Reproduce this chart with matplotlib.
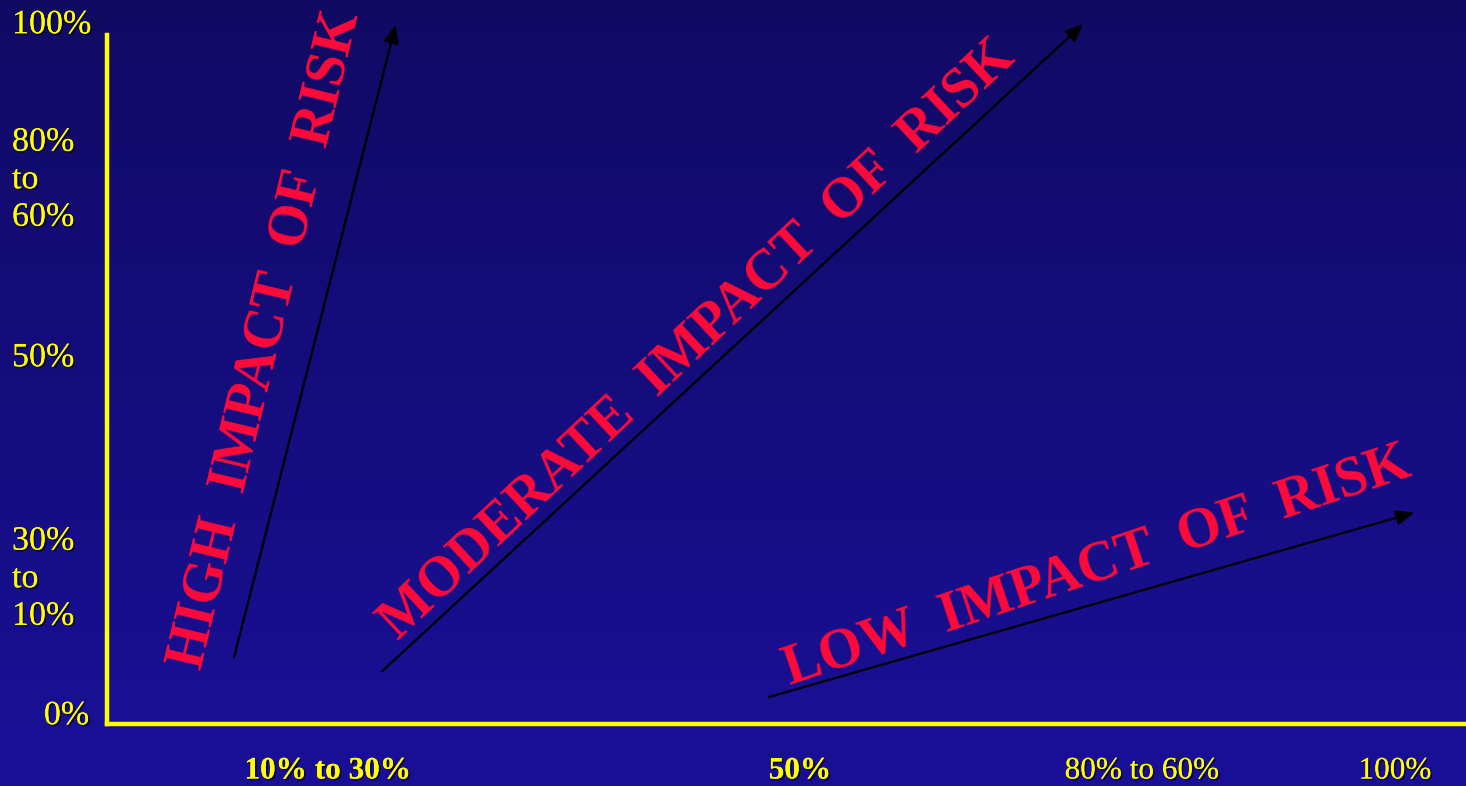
import matplotlib.pyplot as plt
import matplotlib.patheffects as pe
import numpy as np

# axis labels
y_labels = ["100%", "80%\nto\n60%", "50%", "30%\nto\n10%", "0%"]
x_labels = ["10% to 30%", "50%", "80% to 60%", "100%"]
x_bold = [True, True, False, False]

# risk bands: label, arrow start, arrow end (axis units, 0-100)
bands = ["HIGH  IMPACT  OF  RISK", "MODERATE  IMPACT  OF  RISK", "LOW  IMPACT  OF  RISK"]
arrow_start = [(9.3, 9.3), (20.1, 7.4), (48.5, 3.8)]
arrow_end = [(21.3, 101.9), (72.0, 101.9), (96.4, 30.8)]

W, H = 1466, 786
fig = plt.figure(figsize=(W / 100, H / 100), dpi=100)


def px(x, y):
    return x / W, 1 - y / H


# background gradient
bg = fig.add_axes([0, 0, 1, 1])
top = np.array([17, 10, 100]) / 255
bot = np.array([26, 16, 152]) / 255
t = np.linspace(0, 1, 256)[:, None]
grad = top + (bot - top) * t
bg.imshow(grad[:, None, :].repeat(2, axis=1), aspect="auto", extent=[0, 1, 0, 1])
bg.axis("off")

ax = fig.add_axes([107 / W, (H - 724) / H, (W - 107) / W, (724 - 35) / H])
ax.patch.set_alpha(0)
ax.set_xlim(0, 100)
ax.set_ylim(0, 100)
for s in ["top", "right"]:
    ax.spines[s].set_visible(False)
for s in ["left", "bottom"]:
    ax.spines[s].set_color("#ffff00")
    ax.spines[s].set_linewidth(3.2)
ax.set_xticks([])
ax.set_yticks([])

shadow = [pe.withSimplePatchShadow(offset=(1.2, -1.2), shadow_rgbFace="black", alpha=0.7), pe.Normal()]
font = "Liberation Serif"

# y axis labels
y_pos = [(12, 25, "left"), (12, 180, "left"), (12, 358, "left"), (12, 579, "left"), (89, 716, "right")]
for lab, (x, y, ha) in zip(y_labels, y_pos):
    fig.text(*px(x, y), lab, color="#ffff00", fontsize=24.5, family=font, ha=ha, va="center",
             linespacing=1.3, path_effects=shadow)

# x axis labels
x_pos = [328, 800, 1142, 1395]
for lab, x, b in zip(x_labels, x_pos, x_bold):
    fig.text(*px(x, 771), lab, color="#ffff00", fontsize=22.5, family=font, ha="center", va="center",
             fontweight="bold" if b else "normal", path_effects=shadow)

# arrows
for (x0, y0), (x1, y1) in zip(arrow_start, arrow_end):
    ax.annotate("", xy=(x1, y1), xytext=(x0, y0), annotation_clip=False,
                arrowprops=dict(arrowstyle="-|>,head_length=1.1,head_width=0.45", color="black", lw=1.6))

# band labels
text_pos = [(266, 340, 76.5), (697, 340, 43.2), (1097, 566, 18.6)]
for lab, (x, y, rot) in zip(bands, text_pos):
    fig.text(*px(x, y), lab, color="#ff0a3a", fontsize=40.5, family=font, fontweight="bold",
             rotation=rot, rotation_mode="anchor", ha="center", va="center")

fig.savefig("out.png", dpi=100)
